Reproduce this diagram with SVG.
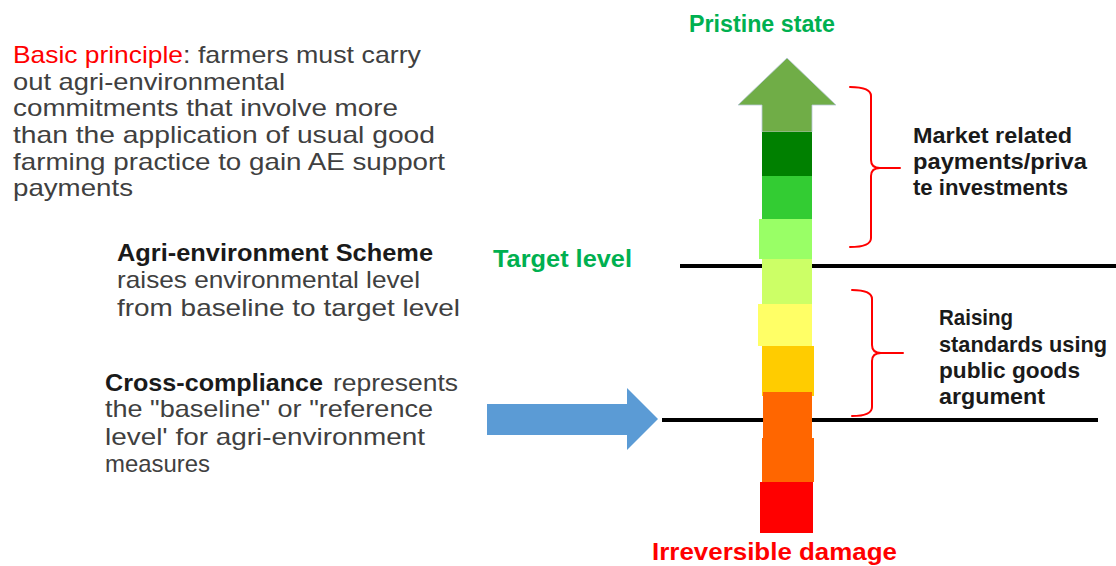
<svg xmlns="http://www.w3.org/2000/svg" width="1116" height="566" viewBox="0 0 1116 566">
  <style>
    text { font-family: "Liberation Sans", Arial, sans-serif; }
    .body { font-size: 24px; fill: #404040; }
    .bold { font-size: 24px; font-weight: bold; fill: #1a1a1a; }
    .side { font-size: 22px; font-weight: bold; fill: #1a1a1a; }
    .green { font-size: 23px; font-weight: bold; fill: #00B050; }
    .red { fill: #FF0000; }
    .level { stroke: #000; stroke-width: 4; }
    .brace { fill: none; stroke: #FF0000; stroke-width: 2; stroke-linecap: round; stroke-linejoin: round; }
  </style>

  <!-- level lines (drawn under the scale) -->
  <g id="connectors">
    <line class="level" x1="680" y1="266" x2="1116" y2="266"/>
    <line class="level" x1="662" y1="420" x2="1098" y2="420"/>
    <path class="brace" d="M850,87 Q871,87 871,96 L871,160 Q871,168 880,168 L900,168 M880,168 Q871,168 871,176 L871,238 Q871,247 850,247"/>
    <path class="brace" d="M852,290 Q872,290 872,299 L872,345 Q872,353 881,353 L903,353 M881,353 Q872,353 872,361 L872,407 Q872,416 852,416"/>
    <!-- blue arrow pointing at the baseline -->
    <polygon points="487,404 627,404 627,388 658,419 627,450 627,435 487,435" fill="#5B9BD5"/>
  </g>

  <!-- colour scale -->
  <g id="scale">
    <polygon points="787,58 836,105 812,105 812,132 762,132 762,105 738,105" fill="#70AD47" stroke="#b8c8d8" stroke-width="0.8"/>
    <rect x="762" y="132" width="50" height="44" fill="#008000"/>
    <rect x="762" y="176" width="50" height="43" fill="#33CC33"/>
    <rect x="759" y="219" width="53" height="40" fill="#99FF66"/>
    <rect x="762" y="259" width="50" height="45" fill="#CCFF66"/>
    <rect x="758" y="304" width="54" height="42" fill="#FFFF66"/>
    <rect x="762" y="346" width="52" height="50" fill="#FFCC00"/>
    <rect x="763" y="392" width="49" height="46" fill="#FF6600"/>
    <rect x="762" y="438" width="52" height="44" fill="#FF6600"/>
    <rect x="760" y="482" width="53" height="51" fill="#FF0000"/>
  </g>

  <g id="pristine">
    <text class="green" x="689" y="32" textLength="146" lengthAdjust="spacingAndGlyphs">Pristine state</text>
  </g>
  <g id="damage">
    <text class="green" x="652" y="560" style="fill:#FF0000" textLength="245" lengthAdjust="spacingAndGlyphs">Irreversible damage</text>
  </g>
  <g id="target">
    <text class="green" x="493" y="267" textLength="139" lengthAdjust="spacingAndGlyphs">Target level</text>
  </g>

  <g id="principle">
    <text class="body" x="13" y="63"><tspan class="red" textLength="170" lengthAdjust="spacingAndGlyphs">Basic principle</tspan><tspan x="183" textLength="238" lengthAdjust="spacingAndGlyphs">: farmers must carry</tspan></text>
    <text class="body" x="13" y="90" textLength="272" lengthAdjust="spacingAndGlyphs">out agri-environmental</text>
    <text class="body" x="13" y="116" textLength="385" lengthAdjust="spacingAndGlyphs">commitments that involve more</text>
    <text class="body" x="13" y="143" textLength="422" lengthAdjust="spacingAndGlyphs">than the application of usual good</text>
    <text class="body" x="13" y="170" textLength="432" lengthAdjust="spacingAndGlyphs">farming practice to gain AE support</text>
    <text class="body" x="13" y="196" textLength="120" lengthAdjust="spacingAndGlyphs">payments</text>
  </g>

  <g id="scheme">
    <text class="bold" x="117" y="261" textLength="316" lengthAdjust="spacingAndGlyphs">Agri-environment Scheme</text>
    <text class="body" x="117" y="288" textLength="303" lengthAdjust="spacingAndGlyphs">raises environmental level</text>
    <text class="body" x="117" y="316" textLength="343" lengthAdjust="spacingAndGlyphs">from baseline to target level</text>
  </g>

  <g id="cross-compliance">
    <text class="bold" x="105" y="391" textLength="218" lengthAdjust="spacingAndGlyphs">Cross-compliance</text>
    <text class="body" x="333" y="391" textLength="125" lengthAdjust="spacingAndGlyphs">represents</text>
    <text class="body" x="105" y="417" textLength="328" lengthAdjust="spacingAndGlyphs">the "baseline" or "reference</text>
    <text class="body" x="105" y="445" textLength="320" lengthAdjust="spacingAndGlyphs">level' for agri-environment</text>
    <text class="body" x="105" y="472" textLength="105" lengthAdjust="spacingAndGlyphs">measures</text>
  </g>

  <g id="market">
    <text class="side" x="913" y="143" textLength="159" lengthAdjust="spacingAndGlyphs">Market related</text>
    <text class="side" x="913" y="169" textLength="174" lengthAdjust="spacingAndGlyphs">payments/priva</text>
    <text class="side" x="913" y="195" textLength="155" lengthAdjust="spacingAndGlyphs">te investments</text>
  </g>

  <g id="public-goods">
    <text class="side" x="939" y="325" textLength="74" lengthAdjust="spacingAndGlyphs">Raising</text>
    <text class="side" x="939" y="352" textLength="168" lengthAdjust="spacingAndGlyphs">standards using</text>
    <text class="side" x="939" y="378" textLength="141" lengthAdjust="spacingAndGlyphs">public goods</text>
    <text class="side" x="939" y="404" textLength="106" lengthAdjust="spacingAndGlyphs">argument</text>
  </g>
</svg>
